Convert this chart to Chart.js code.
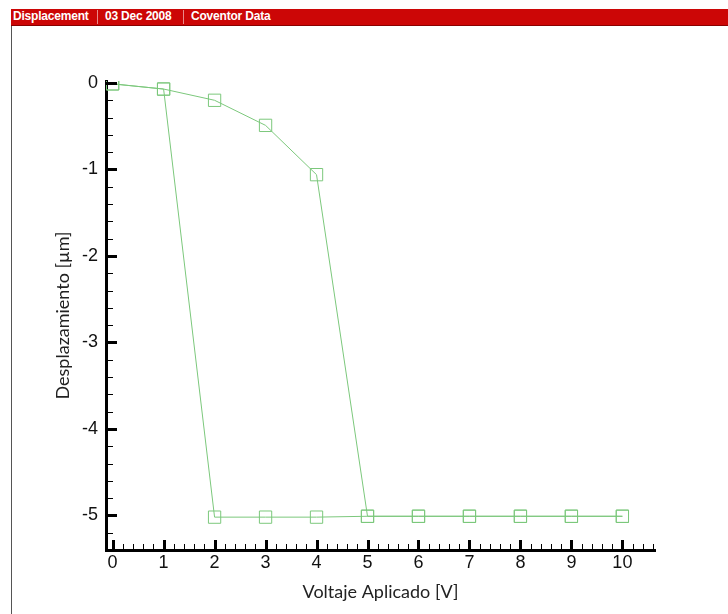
<!DOCTYPE html>
<html>
<head>
<meta charset="utf-8">
<script src="https://cdn.jsdelivr.net/npm/chart.js@4/dist/chart.umd.min.js"></script>
<style>
    html, body { margin: 0; padding: 0; background: #fff; }
    #wrap { position: relative; width: 728px; height: 614px; overflow: hidden; }
    #plot { position: absolute; left: 0; top: 0; }
    .bar { position: absolute; left: 11px; top: 9px; width: 717px; height: 16px; background: #cc0606; border-bottom: 1px solid #8a0000; }
    .bar span { position: absolute; top: 0; line-height: 16px; color: #fff; font: bold 12px "Liberation Sans", Arial, sans-serif; letter-spacing: -0.2px; white-space: nowrap; }
    .bar i { position: absolute; top: 1px; width: 1px; height: 14px; background: #e98a8a; }
    .frame { position: absolute; left: 11px; top: 26px; width: 1px; height: 588px; background: #555; }
</style>
</head>
<body>
<div id="wrap">
    <canvas id="plot" width="728" height="614"></canvas>
    <div class="bar">
        <span style="left:2px">Displacement</span>
        <i style="left:86px"></i>
        <span style="left:94px">03 Dec 2008</span>
        <i style="left:172px"></i>
        <span style="left:180px">Coventor Data</span>
    </div>
    <div class="frame"></div>
</div>
<script>
const voltageUp = [0, 1, 2, 3, 4, 5, 6, 7, 8, 9, 10];
const dispUp = [-0.01, -0.07, -0.20, -0.49, -1.06, -5.01, -5.01, -5.01, -5.01, -5.01, -5.01];
const voltageDown = [10, 9, 8, 7, 6, 5, 4, 3, 2, 1, 0];
const dispDown = [-5.01, -5.01, -5.01, -5.01, -5.01, -5.01, -5.02, -5.02, -5.02, -0.07, -0.01];

const xTicks = [0, 1, 2, 3, 4, 5, 6, 7, 8, 9, 10];
const yTicks = [0, -1, -2, -3, -4, -5];

const green = '#7cc87c';
const tickFont = { family: '"Liberation Sans", Arial, sans-serif', size: 18 };
const titleFont = { family: 'Lato, "Open Sans", sans-serif', size: 18 };

function toPoints(xs, ys) {
    return xs.map((x, i) => ({ x, y: ys[i] }));
}

// inward major + minor ticks, drawn off the library scales
const innerTicks = {
    id: 'innerTicks',
    afterDraw(chart) {
        const { ctx, scales: { x, y } } = chart;
        const x0 = x.left;
        const y0 = x.top;
        ctx.save();
        ctx.strokeStyle = '#000';

        ctx.lineWidth = 1;
        for (let v = 0; v <= x.max + 1e-6; v += 0.2) {
            const px = Math.round(x.getPixelForValue(v)) + 0.5;
            ctx.beginPath();
            ctx.moveTo(px, y0);
            ctx.lineTo(px, y0 - 6);
            ctx.stroke();
        }
        for (let v = 0; v >= y.min - 1e-6; v -= 0.2) {
            const py = Math.round(y.getPixelForValue(v)) + 0.5;
            ctx.beginPath();
            ctx.moveTo(x0, py);
            ctx.lineTo(x0 + 7, py);
            ctx.stroke();
        }

        ctx.lineWidth = 3;
        xTicks.forEach((v) => {
            const px = Math.round(x.getPixelForValue(v)) + 0.5;
            ctx.beginPath();
            ctx.moveTo(px, y0);
            ctx.lineTo(px, y0 - 10);
            ctx.stroke();
        });
        yTicks.forEach((v) => {
            const py = Math.round(y.getPixelForValue(v)) + 0.5;
            ctx.beginPath();
            ctx.moveTo(x0, py);
            ctx.lineTo(x0 + 11, py);
            ctx.stroke();
        });
        ctx.restore();
    },
};

const seriesStyle = {
    showLine: true,
    borderColor: green,
    borderWidth: 1,
    backgroundColor: 'rgba(0,0,0,0)',
    pointStyle: 'rect',
    pointRadius: 8.7,
    pointBorderWidth: 1,
    pointBorderColor: green,
    pointBackgroundColor: 'rgba(0,0,0,0)',
    tension: 0,
};

new Chart(document.getElementById('plot'), {
    type: 'scatter',
    data: {
        datasets: [
            { label: 'Subida', data: toPoints(voltageUp, dispUp), ...seriesStyle },
            { label: 'Bajada', data: toPoints(voltageDown, dispDown), ...seriesStyle },
        ],
    },
    options: {
        responsive: false,
        animation: false,
        layout: { padding: { top: 81, right: 73, bottom: 0, left: 0 } },
        plugins: {
            legend: { display: false },
            tooltip: { enabled: false },
        },
        scales: {
            x: {
                type: 'linear',
                min: -0.13,
                max: 10.64,
                afterFit(scale) { scale.height = 64; },
                afterBuildTicks(scale) { scale.ticks = xTicks.map((value) => ({ value })); },
                grid: { drawOnChartArea: false, drawTicks: false },
                border: { display: true, color: '#000', width: 3 },
                ticks: { color: '#111', font: tickFont, padding: 2, maxRotation: 0, autoSkip: false },
                title: {
                    display: true,
                    text: 'Voltaje Aplicado [V]',
                    color: '#222',
                    font: titleFont,
                    padding: { top: 0, bottom: 11 },
                },
            },
            y: {
                type: 'linear',
                min: -5.40,
                max: 0.023,
                afterFit(scale) { scale.width = 106; },
                afterBuildTicks(scale) { scale.ticks = yTicks.map((value) => ({ value })); },
                grid: { drawOnChartArea: false, drawTicks: false },
                border: { display: true, color: '#000', width: 3 },
                ticks: { color: '#111', font: tickFont, padding: 8, autoSkip: false },
                title: {
                    display: true,
                    text: 'Desplazamiento [µm]',
                    color: '#222',
                    font: titleFont,
                    padding: { top: 52, bottom: 0 },
                },
            },
        },
    },
    plugins: [innerTicks],
});
</script>
</body>
</html>
